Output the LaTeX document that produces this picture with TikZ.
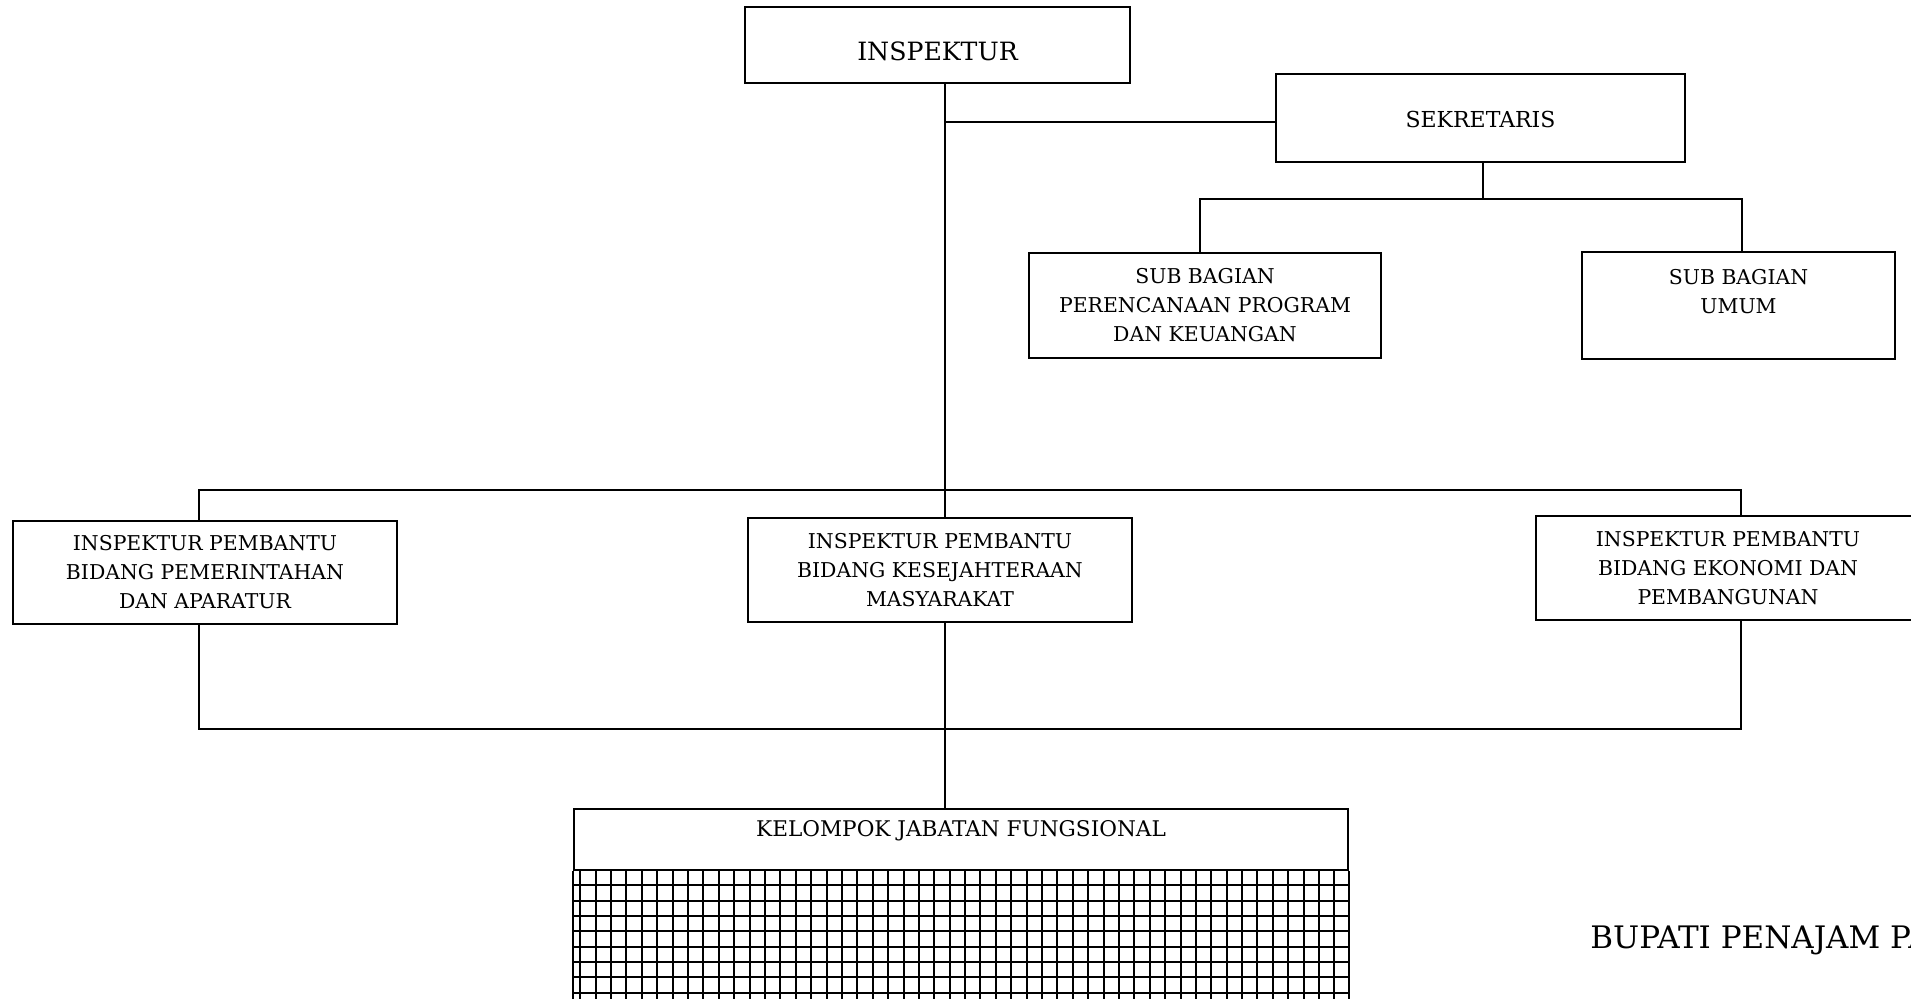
\documentclass[tikz,border=0pt]{standalone}
\usepackage{fontspec}
\setmainfont{DejaVu Serif}
\begin{document}
\begin{tikzpicture}[x=0.5pt,y=-0.5pt,
  conn/.style={line width=1pt},
  box/.style={draw, line width=1pt, align=center, inner sep=0pt, font=\fontsize{10.2}{14.5}\selectfont},
  gridline/.style={line width=1pt},
  bigfont/.style={font=\fontsize{12.6}{16}\selectfont}]
\useasboundingbox (0,0) rectangle (1911,998);
\clip (0,0) rectangle (1911,998);
\fill[white] (0,0) rectangle (1911,998);
% boxes
\node[box, bigfont, minimum width=192.5pt, minimum height=38pt, text height=15pt, text depth=0pt] (ins) at (937.5,45) {INSPEKTUR};
\node[box, font=\fontsize{11}{14.5}\selectfont, minimum width=204.5pt, minimum height=44pt, text height=9.5pt, text depth=0pt] (sek) at (1480.5,118) {SEKRETARIS};
\node[box, minimum width=176pt, minimum height=52.5pt] (subA) at (1205,305.5) {SUB BAGIAN\\PERENCANAAN PROGRAM\\DAN KEUANGAN};
\node[box, minimum width=156.5pt, minimum height=53.5pt] (subB) at (1738.5,305.5) {SUB BAGIAN\\UMUM\\\mbox{}};
\node[box, minimum width=192pt, minimum height=51.5pt] (ipL) at (205,572.5) {INSPEKTUR PEMBANTU\\BIDANG PEMERINTAHAN\\DAN APARATUR};
\node[box, minimum width=192pt, minimum height=52pt] (ipM) at (940,570) {INSPEKTUR PEMBANTU\\BIDANG KESEJAHTERAAN\\MASYARAKAT};
\node[box, minimum width=192pt, minimum height=52pt] (ipR) at (1728,568) {INSPEKTUR PEMBANTU\\BIDANG EKONOMI DAN\\PEMBANGUNAN};
\node[box, font=\fontsize{10.8}{11.5}\selectfont, minimum width=387pt, minimum height=30.5pt] (kel) at (961,839.5) {KELOMPOK JABATAN FUNGSIONAL\\\mbox{}};
% coordinates
\coordinate (trunk) at (945,0);
\coordinate (topbar) at (0,490);
\coordinate (botbar) at (0,729);
\coordinate (sekbar) at (0,199);
\coordinate (sekline) at (0,122);
\coordinate (stemS) at (1483,0);
\coordinate (stemA) at (1200,0);
\coordinate (stemB) at (1742,0);
\coordinate (stemL) at (199,0);
\coordinate (stemR) at (1741,0);
% connectors
\draw[conn] (ins.south -| trunk) -- (ipM.north -| trunk);
\draw[conn] (ipM.south -| trunk) -- (kel.north -| trunk);
\draw[conn] (trunk |- sekline) -- (sek.west |- sekline);
\draw[conn] (sek.south -| stemS) -- (sekbar -| stemS);
\draw[conn] (subA.north -| stemA) -- (sekbar -| stemA) -- (sekbar -| stemB) -- (subB.north -| stemB);
\draw[conn] (ipL.north -| stemL) -- (topbar -| stemL) -- (topbar -| stemR) -- (ipR.north -| stemR);
\draw[conn] (ipL.south -| stemL) -- (botbar -| stemL) -- (botbar -| stemR) -- (ipR.south -| stemR);
% grid region
\draw[line width=1pt] (kel.south west) -- ++(0,140);
\draw[line width=1pt] (kel.south east) -- ++(0,140);
\foreach \i in {0,...,49} \draw[gridline] (580.3+15.39*\i,870) -- (580.3+15.39*\i,1010);
\foreach \j in {1,...,8} \draw[gridline] (574,870+15.35*\j) -- (1348,870+15.35*\j);
% signature
\node[font=\fontsize{15.5}{18}\selectfont, anchor=base west, inner sep=0pt] (bup) at (1590,948) {BUPATI PENAJAM PA};
\end{tikzpicture}
\end{document}
